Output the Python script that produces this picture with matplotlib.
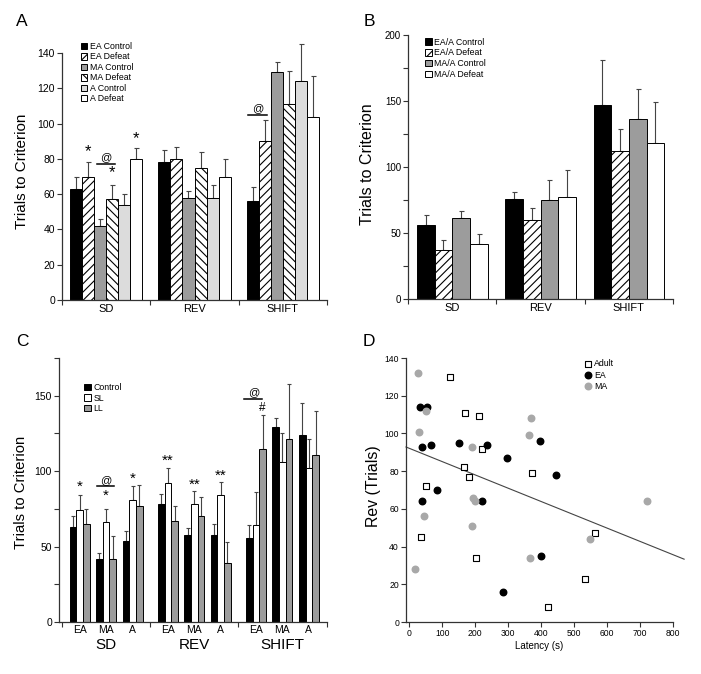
import numpy as np
import matplotlib
matplotlib.use('Agg')
import matplotlib.pyplot as plt
from matplotlib.patches import Patch
from matplotlib.ticker import MultipleLocator, FixedLocator

plt.rcParams['font.family'] = ['Liberation Sans', 'DejaVu Sans']
plt.rcParams['hatch.linewidth'] = 0.8

# ---- panel A data ----
phases = ['SD', 'REV', 'SHIFT']
a_labels = ['EA Control', 'EA Defeat', 'MA Control', 'MA Defeat', 'A Control', 'A Defeat']
a_means = [[63, 78, 56],
           [70, 80, 90],
           [42, 58, 129],
           [57, 75, 111],
           [54, 58, 124],
           [80, 70, 104]]
a_sem = [[7, 7, 8],
         [8, 7, 12],
         [4, 4, 6],
         [8, 9, 19],
         [6, 7, 21],
         [6, 10, 23]]

# ---- panel B data ----
b_labels = ['EA/A Control', 'EA/A Defeat', 'MA/A Control', 'MA/A Defeat']
b_means = [[56, 76, 147],
           [37, 60, 112],
           [61, 75, 136],
           [42, 77, 118]]
b_sem = [[8, 5, 34],
         [8, 9, 17],
         [6, 15, 23],
         [7, 21, 31]]

# ---- panel C data (phase x age x lighting) ----
ages = ['EA', 'MA', 'A']
c_labels = ['Control', 'SL', 'LL']
c_control = [[63, 42, 54], [78, 58, 58], [56, 129, 124]]
c_sl = [[74, 66, 81], [92, 78, 84], [64, 106, 102]]
c_ll = [[65, 42, 77], [67, 70, 39], [115, 121, 111]]
c_control_sem = [[7, 4, 6], [7, 4, 7], [8, 6, 21]]
c_sl_sem = [[10, 9, 9], [10, 9, 9], [22, 19, 19]]
c_ll_sem = [[10, 15, 14], [10, 13, 14], [22, 37, 29]]

# ---- panel D data ----
adult_lat = [124, 169, 213, 222, 167, 180, 374, 51, 37, 202, 563, 534, 420]
adult_rev = [130, 111, 109, 92, 82, 77, 79, 72, 45, 34, 47, 23, 8]
ea_lat = [32, 53, 39, 66, 152, 236, 296, 396, 446, 83, 39, 222, 400, 286]
ea_rev = [114, 114, 93, 94, 95, 94, 87, 96, 78, 70, 64, 64, 35, 16]
ma_lat = [25, 51, 28, 190, 363, 370, 194, 199, 45, 190, 367, 18, 548, 721]
ma_rev = [132, 112, 101, 93, 99, 108, 66, 64, 56, 51, 34, 28, 44, 64]
fit_intercept = 92.1
fit_slope = -0.0704

W, H = 701, 674
fig = plt.figure(figsize=(W / 100, H / 100), dpi=100)


def px_axes(left, top, width, height):
    return fig.add_axes([left / W, 1 - (top + height) / H, width / W, height / H])


def style_axes(ax, fs):
    ax.spines['top'].set_visible(False)
    ax.spines['right'].set_visible(False)
    for s in ['left', 'bottom']:
        ax.spines[s].set_linewidth(0.9)
        ax.spines[s].set_color('#333333')
    ax.tick_params(axis='both', which='both', direction='out', length=3.5,
                   width=0.8, color='#333333', labelsize=fs, pad=1.5)


def grouped_bars(ax, means, sems, colors, hatches, width, offset):
    for i, (m, e) in enumerate(zip(means, sems)):
        x = np.arange(len(m)) + offset + (i + 0.5) * width
        ax.bar(x, m, width, color=colors[i], hatch=hatches[i], edgecolor='black',
               linewidth=0.7, zorder=2)
        ax.errorbar(x, m, yerr=[np.zeros(len(e)), e], fmt='none', ecolor='#444444',
                    elinewidth=0.8, capsize=1.8, capthick=0.8, zorder=1, clip_on=False)


def phase_axis(ax, fs):
    ax.set_xlim(0, 3)
    ax.xaxis.set_major_locator(FixedLocator([0, 1, 2, 3]))
    ax.xaxis.set_major_formatter(plt.NullFormatter())
    ax.xaxis.set_minor_locator(FixedLocator([0.5, 1.5, 2.5]))
    ax.set_xticklabels(phases, minor=True)
    ax.tick_params(axis='x', which='minor', length=0, labelsize=fs, pad=3)


def sig_line(ax, x0, x1, y, txt):
    ax.plot([x0, x1], [y, y], color='black', lw=1.1, zorder=3)
    ax.text((x0 + x1) / 2, y + 1, txt, ha='center', va='bottom', fontsize=8)


# ================= A =================
axA = px_axes(62, 53, 265, 247)
style_axes(axA, 7.5)
a_colors = ['black', 'white', '#9c9c9c', 'white', '#dcdcdc', 'white']
a_hatch = [None, '////', None, '\\\\\\\\', None, None]
a_w = 0.136
a_off = 0.092
grouped_bars(axA, a_means, a_sem, a_colors, a_hatch, a_w, a_off)
phase_axis(axA, 8)
axA.set_ylim(0, 140)
axA.yaxis.set_major_locator(MultipleLocator(20))
axA.set_ylabel('Trials to Criterion', fontsize=11)
axA.yaxis.set_label_coords(-0.125, 0.52)


def a_x(group, bar):
    return group + a_off + (bar + 0.5) * a_w


axA.text(a_x(0, 1), 80, '*', ha='center', va='bottom', fontsize=12)
axA.text(a_x(0, 3), 68, '*', ha='center', va='bottom', fontsize=12)
axA.text(a_x(0, 5), 87, '*', ha='center', va='bottom', fontsize=12)
mid = (a_x(0, 2) + a_x(0, 3)) / 2
sig_line(axA, mid - 0.1, mid + 0.1, 77, '@')
mid = (a_x(2, 0) + a_x(2, 1)) / 2
sig_line(axA, mid - 0.12, mid + 0.09, 105, '@')

handles = [Patch(facecolor=c, edgecolor='black', hatch=h, linewidth=0.7)
           for c, h in zip(a_colors, a_hatch)]
axA.legend(handles, a_labels, loc='upper left', bbox_to_anchor=(0.07, 1.045),
           frameon=False, fontsize=6.3, handlelength=0.75, handleheight=0.75,
           handletextpad=0.3, labelspacing=0.17, borderpad=0, borderaxespad=0)

# ================= B =================
axB = px_axes(408, 35, 265, 264)
style_axes(axB, 7)
b_colors = ['black', 'white', '#9c9c9c', 'white']
b_hatch = [None, '////', None, None]
grouped_bars(axB, b_means, b_sem, b_colors, b_hatch, 0.2, 0.1)
phase_axis(axB, 8)
axB.set_ylim(0, 200)
axB.yaxis.set_major_locator(MultipleLocator(50))
axB.yaxis.set_minor_locator(MultipleLocator(25))
axB.set_ylabel('Trials to Criterion', fontsize=11.5)
axB.yaxis.set_label_coords(-0.125, 0.51)
handles = [Patch(facecolor=c, edgecolor='black', hatch=h, linewidth=0.7)
           for c, h in zip(b_colors, b_hatch)]
axB.legend(handles, b_labels, loc='upper left', bbox_to_anchor=(0.065, 0.99),
           frameon=False, fontsize=6.3, handlelength=0.75, handleheight=0.75,
           handletextpad=0.3, labelspacing=0.2, borderpad=0, borderaxespad=0)

# ================= C =================
axC = px_axes(59, 358, 267.5, 264)
style_axes(axC, 7.5)
c_w = 0.0757
c_sub = [0.2, 0.5, 0.8]
c_series = [(c_control, c_control_sem, 'black'),
            (c_sl, c_sl_sem, 'white'),
            (c_ll, c_ll_sem, '#9c9c9c')]
for k, (vals, sems, col) in enumerate(c_series):
    vals = np.array(vals)
    sems = np.array(sems)
    x = (np.arange(3)[:, None] + np.array(c_sub)[None, :] + (k - 1) * c_w).ravel()
    axC.bar(x, vals.ravel(), c_w, color=col, edgecolor='black', linewidth=0.7, zorder=2)
    axC.errorbar(x, vals.ravel(), yerr=[np.zeros(x.size), sems.ravel()], fmt='none',
                 ecolor='#444444', elinewidth=0.8, capsize=1.5, capthick=0.8, zorder=1,
                 clip_on=False)
axC.set_xlim(-0.035, 3)
axC.set_ylim(0, 175)
axC.yaxis.set_major_locator(MultipleLocator(50))
axC.yaxis.set_minor_locator(MultipleLocator(25))
axC.xaxis.set_major_locator(FixedLocator([0, 1, 2, 3]))
axC.xaxis.set_major_formatter(plt.NullFormatter())
sub_pos = [g + s for g in range(3) for s in c_sub]
axC.xaxis.set_minor_locator(FixedLocator(sub_pos))
axC.set_xticklabels(ages * 3, minor=True)
axC.tick_params(axis='x', which='minor', length=0, labelsize=7.5, pad=2.5)
for g, name in enumerate(phases):
    axC.text(g + 0.5, -0.088, name, transform=axC.get_xaxis_transform(),
             ha='center', va='center', fontsize=11)
axC.set_ylabel('Trials to Criterion', fontsize=10.7)
axC.yaxis.set_label_coords(-0.116, 0.49)


def c_x(group, sub, k):
    return group + c_sub[sub] + (k - 1) * c_w


axC.text(c_x(0, 0, 1), 85, '*', ha='center', va='bottom', fontsize=11)
axC.text(c_x(0, 1, 1), 79, '*', ha='center', va='bottom', fontsize=11)
axC.text(c_x(0, 2, 1), 90, '*', ha='center', va='bottom', fontsize=11)
axC.text(c_x(1, 0, 1), 102, '**', ha='center', va='bottom', fontsize=11)
axC.text(c_x(1, 1, 1), 86, '**', ha='center', va='bottom', fontsize=11)
axC.text(c_x(1, 2, 1), 92, '**', ha='center', va='bottom', fontsize=11)
axC.text(c_x(2, 0, 2), 138, '#', ha='center', va='bottom', fontsize=8.5)
mid = c_x(0, 1, 0.5)
sig_line(axC, mid - 0.07, mid + 0.13, 90, '@')
mid = c_x(2, 0, 0.5)
sig_line(axC, mid - 0.095, mid + 0.11, 148, '@')
handles = [Patch(facecolor=col, edgecolor='black', linewidth=0.7) for _, _, col in c_series]
axC.legend(handles, c_labels, loc='upper left', bbox_to_anchor=(0.095, 0.905),
           frameon=False, fontsize=6.3, handlelength=0.75, handleheight=0.75,
           handletextpad=0.3, labelspacing=0.17, borderpad=0, borderaxespad=0)

# ================= D =================
axD = px_axes(406, 358, 266.6, 264)
style_axes(axD, 6.2)
axD.scatter(adult_lat, adult_rev, s=16, marker='s', facecolor='white',
            edgecolor='black', linewidths=0.8, zorder=3, label='Adult')
axD.scatter(ea_lat, ea_rev, s=22, marker='o', color='black', zorder=3, label='EA')
axD.scatter(ma_lat, ma_rev, s=22, marker='o', color='#a8a8a8', zorder=3, label='MA')
xf = np.array([-10, 835])
axD.plot(xf, fit_intercept + fit_slope * xf, color='#444444', lw=0.8, clip_on=False)
axD.set_xlim(-10, 800)
axD.set_ylim(0, 140)
axD.xaxis.set_major_locator(MultipleLocator(100))
axD.yaxis.set_major_locator(MultipleLocator(20))
axD.set_xlabel('Latency (s)', fontsize=7)
axD.xaxis.set_label_coords(0.5, -0.072)
axD.set_ylabel('Rev (Trials)', fontsize=11.4)
axD.yaxis.set_label_coords(-0.094, 0.515)
axD.legend(loc='upper left', bbox_to_anchor=(0.665, 0.995), frameon=False, fontsize=6.3,
           handletextpad=0.2, labelspacing=0.25, borderpad=0, borderaxespad=0,
           handlelength=1.0, markerscale=1.0)

# panel letters
for letter, (x, y) in zip('ABCD', [(22, 21), (369, 21), (22, 341), (369, 342)]):
    fig.text(x / W, 1 - y / H, letter, ha='center', va='center', fontsize=12.5)

fig.savefig('out.png', dpi=100)
